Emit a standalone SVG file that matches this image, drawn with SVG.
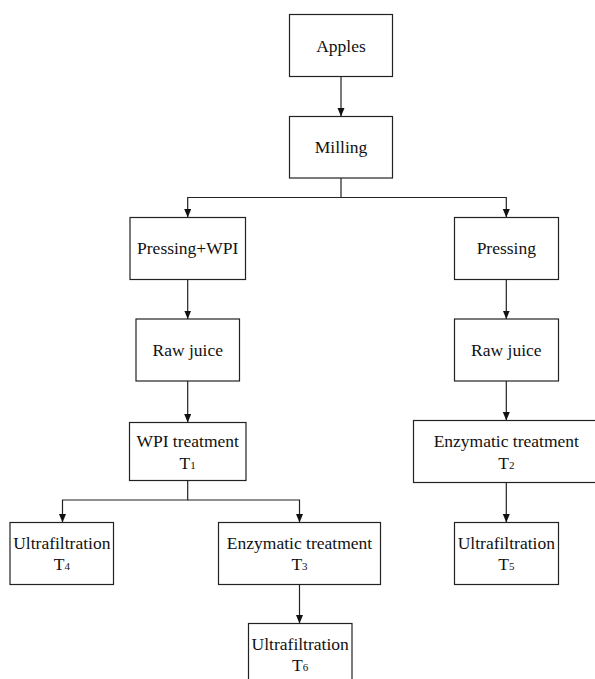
<svg xmlns="http://www.w3.org/2000/svg" width="595" height="679" viewBox="0 0 595 679">
<style>
.box{fill:#fff;stroke:#222;stroke-width:1.2}
.t{font-family:"Liberation Serif","Times New Roman",serif;font-size:17.5px;fill:#111;text-anchor:middle}
.s{font-size:11px}
.c{fill:none;stroke:#222;stroke-width:1.2}
</style>
<defs>
<marker id="ah" markerUnits="userSpaceOnUse" markerWidth="9" markerHeight="8" refX="8.5" refY="3.5" orient="auto">
<path d="M0,0 L8.5,3.5 L0,7 z" fill="#111"/>
</marker>
</defs>
<rect width="595" height="679" fill="#fff"/>
<g id="connectors">
<path class="c" d="M341,76.5 V116.5" marker-end="url(#ah)"/>
<path class="c" d="M341,178 V197.5 H187.7 V217.5" marker-end="url(#ah)"/>
<path class="c" d="M341,197.5 H506.3 V217.5" marker-end="url(#ah)"/>
<path class="c" d="M187.7,279.5 V319" marker-end="url(#ah)"/>
<path class="c" d="M506.3,279.5 V319" marker-end="url(#ah)"/>
<path class="c" d="M187.7,381 V422.5" marker-end="url(#ah)"/>
<path class="c" d="M506.3,381 V420.5" marker-end="url(#ah)"/>
<path class="c" d="M187.7,480.5 V500 H62.5 V522.5" marker-end="url(#ah)"/>
<path class="c" d="M187.7,500 H299.5 V522.5" marker-end="url(#ah)"/>
<path class="c" d="M506.3,482.5 V522.5" marker-end="url(#ah)"/>
<path class="c" d="M299.5,584.5 V623.5" marker-end="url(#ah)"/>
</g>
<g id="apples"><rect class="box" x="289.5" y="14.5" width="103" height="62"/><text class="t" x="341" y="51.5">Apples</text></g>
<g id="milling"><rect class="box" x="289.5" y="116.5" width="103" height="61.5"/><text class="t" x="341" y="153">Milling</text></g>
<g id="pressing-wpi"><rect class="box" x="130" y="217.5" width="115.5" height="62"/><text class="t" x="187.7" y="254">Pressing+WPI</text></g>
<g id="pressing"><rect class="box" x="454.5" y="217.5" width="104" height="62"/><text class="t" x="506.3" y="254">Pressing</text></g>
<g id="raw-juice-1"><rect class="box" x="136" y="319" width="103.5" height="62"/><text class="t" x="187.7" y="355.5">Raw juice</text></g>
<g id="raw-juice-2"><rect class="box" x="454.5" y="319" width="104" height="62"/><text class="t" x="506.3" y="355.5">Raw juice</text></g>
<g id="wpi-treatment"><rect class="box" x="129.5" y="422.5" width="116.5" height="58"/><text class="t" x="187.7" y="446.5">WPI treatment</text><text class="t" x="187.7" y="468.5">T<tspan class="s">1</tspan></text></g>
<g id="enzymatic-t2"><rect class="box" x="413.5" y="420.5" width="186" height="62"/><text class="t" x="506.3" y="446.5">Enzymatic treatment</text><text class="t" x="506.3" y="468.5">T<tspan class="s">2</tspan></text></g>
<g id="ultrafiltration-t4"><rect class="box" x="10" y="522.5" width="103.5" height="62"/><text class="t" x="61.8" y="549">Ultrafiltration</text><text class="t" x="61.8" y="569.5">T<tspan class="s">4</tspan></text></g>
<g id="enzymatic-t3"><rect class="box" x="218.5" y="522.5" width="162" height="62"/><text class="t" x="299.5" y="549">Enzymatic treatment</text><text class="t" x="299.5" y="569.5">T<tspan class="s">3</tspan></text></g>
<g id="ultrafiltration-t5"><rect class="box" x="454.5" y="522.5" width="104" height="62"/><text class="t" x="506.3" y="549">Ultrafiltration</text><text class="t" x="506.3" y="569.5">T<tspan class="s">5</tspan></text></g>
<g id="ultrafiltration-t6"><rect class="box" x="248.5" y="623.5" width="103.5" height="62"/><text class="t" x="300.2" y="650">Ultrafiltration</text><text class="t" x="300.2" y="670.5">T<tspan class="s">6</tspan></text></g>
</svg>
